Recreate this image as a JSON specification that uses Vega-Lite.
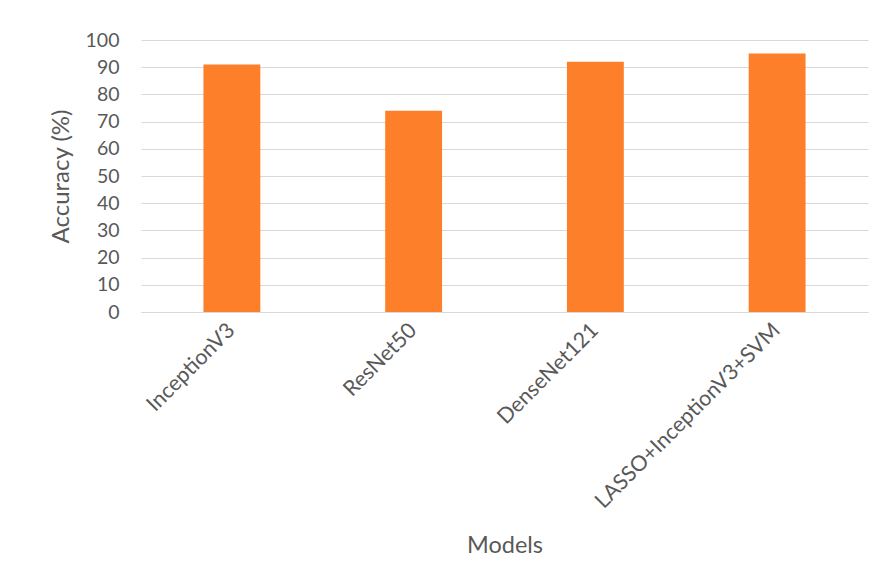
{
  "$schema": "https://vega.github.io/schema/vega-lite/v6.json",
  "width": 727,
  "height": 272,
  "autosize": "none",
  "padding": {"left": 141, "top": 40, "right": 18, "bottom": 272},
  "background": "white",
  "data": {
    "values": [
      {"model": "InceptionV3", "accuracy": 91},
      {"model": "ResNet50", "accuracy": 74},
      {"model": "DenseNet121", "accuracy": 92},
      {"model": "LASSO+InceptionV3+SVM", "accuracy": 95}
    ]
  },
  "mark": {"type": "bar", "color": "#FE7F2A"},
  "encoding": {
    "x": {
      "field": "model",
      "type": "nominal",
      "sort": null,
      "title": "Models",
      "scale": {"paddingInner": 0.687, "paddingOuter": 0.3435},
      "axis": {
        "labelAngle": -45,
        "labelAlign": "right",
        "labelBaseline": "middle",
        "labelPadding": 15,
        "labelFontSize": 21.5,
        "labelFont": "Lato",
        "labelColor": "#595959",
        "ticks": false,
        "domainColor": "#D9D9D9",
        "domainWidth": 1,
        "titleFont": "Lato",
        "titleFontSize": 23.5,
        "titleFontWeight": "normal",
        "titleColor": "#595959",
        "titlePadding": 21,
        "labelLimit": 400
      }
    },
    "y": {
      "field": "accuracy",
      "type": "quantitative",
      "title": "Accuracy (%)",
      "scale": {"domain": [0, 100], "nice": false},
      "axis": {
        "values": [0, 10, 20, 30, 40, 50, 60, 70, 80, 90, 100],
        "domain": false,
        "ticks": false,
        "labelPadding": 22,
        "labelFontSize": 19.5,
        "labelFont": "Lato",
        "labelColor": "#595959",
        "gridColor": "#D9D9D9",
        "gridWidth": 1,
        "titleFont": "Lato",
        "titleFontSize": 24,
        "titleFontWeight": "normal",
        "titleColor": "#595959",
        "titlePadding": 12
      }
    }
  },
  "config": {"view": {"stroke": null}}
}
